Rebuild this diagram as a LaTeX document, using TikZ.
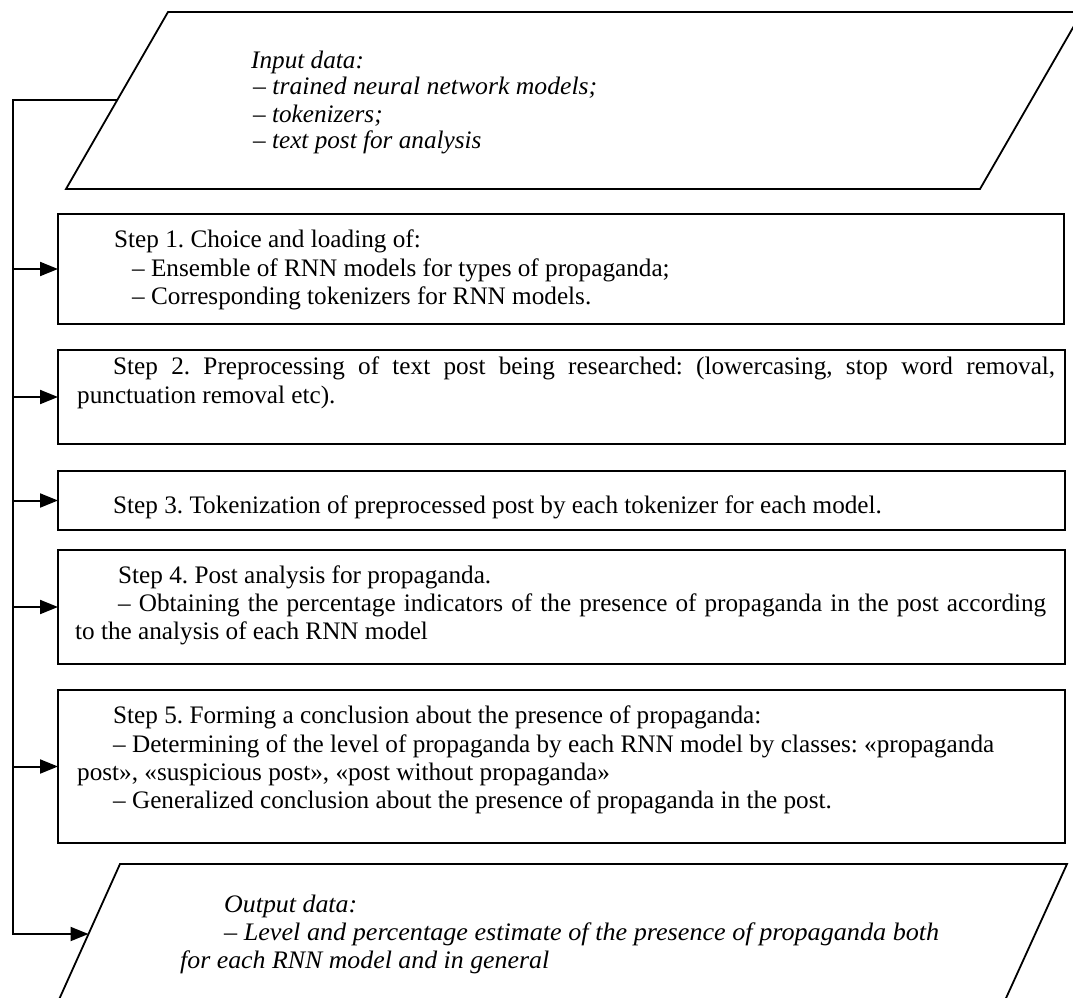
\documentclass[tikz,border=0pt]{standalone}
\usepackage{fontspec}
\setmainfont{Liberation Serif}
\usetikzlibrary{arrows.meta}
\newcommand\fs{\fontsize{25.2pt}{28.5pt}\selectfont\frenchspacing}
\newcommand\fitw[2]{\resizebox{#1}{\height}{#2}}
\begin{document}
\begin{tikzpicture}[x=1pt,y=-1pt,
  box/.style={draw, line width=2.8pt, rectangle, inner sep=0pt, outer sep=0pt, anchor=north west},
  io/.style={draw, line width=1.8pt, line join=miter},
  txt/.style={anchor=base west, inner sep=0pt, font=\fs},
  itx/.style={anchor=base west, inner sep=0pt, font=\fs\itshape},
  conn/.style={line width=2pt, line join=miter},
  arr/.style={conn, -{Triangle[length=18pt,width=14pt]}}]
\useasboundingbox (0,0) rectangle (1073,998);
\clip (0,0) rectangle (1073,998);
% input / output parallelograms
\draw[io] (168,12) -- (1082,12) -- (980,189) -- (66,189) -- cycle;
\draw[io] (54.3,1010) -- (120,864) -- (1067,864) -- (1000.6,1010) -- cycle;
\coordinate (inL) at (117,100);
\coordinate (outL) at (88.5,934);
\coordinate (bus) at (13,100);
% step boxes
\node[box, minimum width=1006pt, minimum height=110pt] (s1) at (58,214) {};
\node[box, minimum width=1007pt, minimum height=94pt]  (s2) at (58,350) {};
\node[box, minimum width=1007pt, minimum height=59pt]  (s3) at (58,471) {};
\node[box, minimum width=1007pt, minimum height=114pt] (s4) at (58,550) {};
\node[box, minimum width=1007pt, minimum height=153pt] (s5) at (58,690) {};
% connectors
\draw[arr] (inL) -- (bus) |- (outL);
\foreach \s in {s1,s2,s3,s4,s5}
  \draw[arr] (bus |- \s.west) -- (\s.west);
% input text
\node[itx] (in1) at (251,68)  {Input data:};
\node[itx] (in2) at (253,95)  {\fitw{344pt}{– trained neural network models;}};
\node[itx] (in3) at (253,122) {– tokenizers;};
\node[itx] (in4) at (253,148) {– text post for analysis};
% step 1
\node[txt] (t11) at (114,247) {Step 1. Choice and loading of:};
\node[txt] (t12) at (132,276) {– Ensemble of RNN models for types of propaganda;};
\node[txt] (t13) at (132,304) {– Corresponding tokenizers for RNN models.};
% step 2
\node[txt] (t21) at (113,374) {\makebox[942pt][s]{Step 2. Preprocessing of text post being researched: (lowercasing, stop word removal,}};
\node[txt] (t22) at (77,403)  {punctuation removal etc).};
% step 3
\node[txt] (t31) at (113,513) {Step 3. Tokenization of preprocessed post by each tokenizer for each model.};
% step 4
\node[txt] (t41) at (118,583) {Step 4. Post analysis for propaganda.};
\node[txt] (t42) at (118,611) {\makebox[928pt][s]{– Obtaining the percentage indicators of the presence of propaganda in the post according}};
\node[txt] (t43) at (75,639)  {to the analysis of each RNN model};
% step 5
\node[txt] (t51) at (113,723) {Step 5. Forming a conclusion about the presence of propaganda:};
\node[txt] (t52) at (113,752) {– Determining of the level of propaganda by each RNN model by classes: «propaganda};
\node[txt] (t53) at (77,780)  {post», «suspicious post», «post without propaganda»};
\node[txt] (t54) at (113,808) {– Generalized conclusion about the presence of propaganda in the post.};
% output text
\node[itx] (o1) at (224,912) {\fitw{133pt}{Output data:}};
\node[itx] (o2) at (224,940) {\fitw{715pt}{– Level and percentage estimate of the presence of propaganda both}};
\node[itx] (o3) at (180,968) {\fitw{369pt}{for each RNN model and in general}};
\end{tikzpicture}
\end{document}
